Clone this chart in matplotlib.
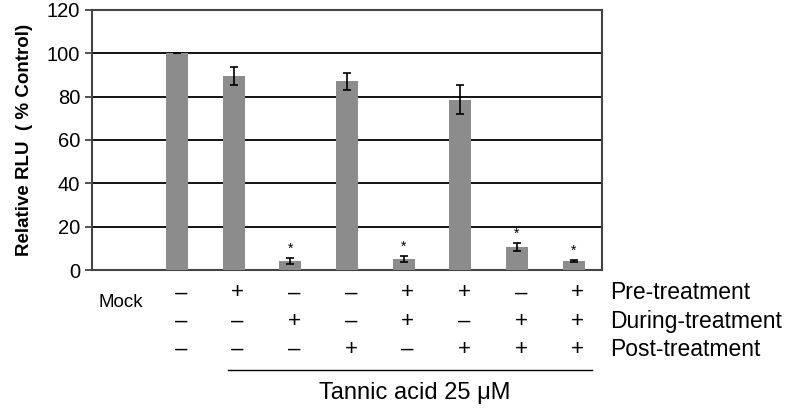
import matplotlib
matplotlib.use('Agg')
import matplotlib.pyplot as plt

# Data
values = [100, 89.6, 4.2, 87, 5, 78.5, 10.6, 4]
errors = [0, 4.2, 1.2, 4, 1.5, 6.7, 2, 0.5]
significant = [False, False, True, False, True, False, True, True]
pre = ['–', '+', '–', '–', '+', '+', '–', '+']
during = ['–', '–', '+', '–', '+', '–', '+', '+']
post = ['–', '–', '–', '+', '–', '+', '+', '+']
row_labels = ['Pre-treatment', 'During-treatment', 'Post-treatment']
yticks = [0, 20, 40, 60, 80, 100, 120]

plt.rcParams['font.family'] = ['Liberation Sans', 'DejaVu Sans']

fig = plt.figure(figsize=(7.87, 4.11), dpi=100)
ax = fig.add_axes([0.1169, 0.343, 0.648, 0.633])

x = list(range(1, len(values) + 1))
ax.bar(x, values, width=0.39, color='#8c8c8c', zorder=3)
ax.errorbar(x, values, yerr=errors, fmt='none', ecolor='black',
            elinewidth=1.2, capsize=3, capthick=1.2, zorder=4)
for xi, v, e, s in zip(x, values, errors, significant):
    if s:
        ax.text(xi, v + e + 1.0, '*', ha='center', va='bottom', fontsize=10)

ax.set_xlim(-0.5, 8.5)
ax.set_ylim(0, 120)
ax.set_yticks(yticks)
ax.tick_params(axis='y', labelsize=14.5, length=5, width=1.2, color='#333333')
ax.set_xticks([])
ax.grid(True, axis='y', color='black', linewidth=1.3, zorder=0)
for sp in ax.spines.values():
    sp.set_color('#444444')
    sp.set_linewidth(1.5)
ax.set_ylabel('Relative RLU  ( % Control)', fontsize=13.5, fontweight='bold', labelpad=10)

# treatment table below the axis
tr = ax.get_xaxis_transform()
rows_y = [-0.088, -0.196, -0.304]
for row, yy in zip([pre, during, post], rows_y):
    for xi, sym in zip(x, row):
        ax.text(xi + 0.07, yy, sym, transform=tr, ha='center', va='center',
                fontsize=16, clip_on=False)
for lab, yy in zip(row_labels, rows_y):
    ax.text(8.64, yy, lab, transform=tr, ha='left', va='center',
            fontsize=16.5, clip_on=False)
ax.text(0, -0.123, 'Mock', transform=tr, ha='center', va='center',
        fontsize=13.5, clip_on=False)
ax.plot([1.9, 8.32], [-0.385, -0.385], transform=tr, color='black',
        linewidth=1.0, clip_on=False)
ax.text(5.2, -0.473, 'Tannic acid 25 μM', transform=tr, ha='center',
        va='center', fontsize=17, clip_on=False)

fig.savefig('out.png', dpi=100)
